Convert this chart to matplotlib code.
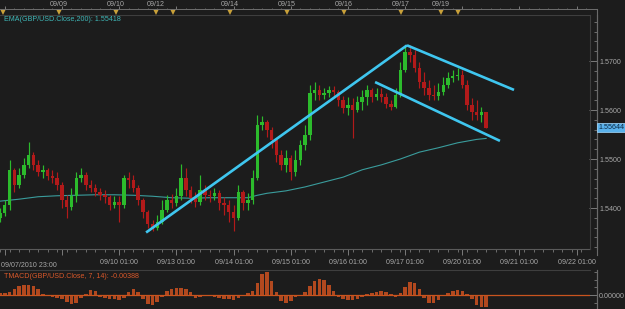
import matplotlib
matplotlib.use("Agg")
import matplotlib.pyplot as plt
import numpy as np
from matplotlib.lines import Line2D
from matplotlib.transforms import blended_transform_factory
from matplotlib.ticker import MultipleLocator, FixedLocator

plt.rcParams['font.family'] = ['Liberation Sans', 'DejaVu Sans']

# ---------------- data (2-hour candles, x = trading hours since 09/07/2010 23:00) -------------
first_open = 1.5380
closes = [1.5390, 1.5406, 1.5478, 1.5447, 1.5467, 1.5488, 1.5508, 1.5488, 1.5474, 1.5478,
          1.5465, 1.5461, 1.5447, 1.5416, 1.5402, 1.5425, 1.5461, 1.5467, 1.5447, 1.5441,
          1.5433, 1.5427, 1.5423, 1.5406, 1.5412, 1.5406, 1.5461, 1.5457, 1.5441, 1.5416,
          1.5392, 1.5367, 1.5359, 1.5371, 1.5396, 1.5416, 1.5410, 1.5425, 1.5461, 1.5437,
          1.5420, 1.5412, 1.5437, 1.5427, 1.5425, 1.5431, 1.5410, 1.5406, 1.5392, 1.5380,
          1.5433, 1.5410, 1.5416, 1.5461, 1.5569, 1.5576, 1.5559, 1.5539, 1.5508, 1.5488,
          1.5502, 1.5474, 1.5498, 1.5529, 1.5549, 1.5635, 1.5641, 1.5631, 1.5635, 1.5641,
          1.5637, 1.5620, 1.5604, 1.5610, 1.5600, 1.5616, 1.5627, 1.5641, 1.5627, 1.5633,
          1.5627, 1.5612, 1.5606, 1.5631, 1.5682, 1.5718, 1.5712, 1.5686, 1.5657, 1.5645,
          1.5631, 1.5629, 1.5637, 1.5651, 1.5665, 1.5669, 1.5671, 1.5651, 1.5610, 1.5596,
          1.5590, 1.5596, 1.5564]
highs = [1.5400, 1.5416, 1.5498, 1.5482, 1.5482, 1.5502, 1.5535, 1.5514, 1.5498, 1.5488,
         1.5482, 1.5478, 1.5474, 1.5453, 1.5427, 1.5441, 1.5474, 1.5482, 1.5474, 1.5457,
         1.5449, 1.5441, 1.5437, 1.5427, 1.5425, 1.5425, 1.5467, 1.5474, 1.5467, 1.5447,
         1.5420, 1.5396, 1.5376, 1.5386, 1.5416, 1.5427, 1.5429, 1.5441, 1.5490, 1.5482,
         1.5445, 1.5433, 1.5467, 1.5447, 1.5437, 1.5441, 1.5437, 1.5423, 1.5416, 1.5406,
         1.5447, 1.5437, 1.5431, 1.5478, 1.5590, 1.5588, 1.5580, 1.5565, 1.5543, 1.5518,
         1.5518, 1.5508, 1.5518, 1.5539, 1.5569, 1.5651, 1.5657, 1.5651, 1.5645, 1.5649,
         1.5649, 1.5641, 1.5629, 1.5627, 1.5624, 1.5629, 1.5641, 1.5651, 1.5645, 1.5645,
         1.5645, 1.5635, 1.5620, 1.5645, 1.5698, 1.5731, 1.5733, 1.5722, 1.5698, 1.5678,
         1.5661, 1.5651, 1.5655, 1.5667, 1.5678, 1.5682, 1.5686, 1.5682, 1.5661, 1.5624,
         1.5620, 1.5606, 1.5590]
lows = [1.5371, 1.5384, 1.5396, 1.5433, 1.5441, 1.5461, 1.5482, 1.5478, 1.5465, 1.5461,
        1.5457, 1.5451, 1.5437, 1.5400, 1.5380, 1.5396, 1.5412, 1.5453, 1.5437, 1.5433,
        1.5425, 1.5416, 1.5410, 1.5396, 1.5400, 1.5371, 1.5400, 1.5441, 1.5433, 1.5406,
        1.5380, 1.5359, 1.5353, 1.5355, 1.5367, 1.5392, 1.5400, 1.5404, 1.5416, 1.5425,
        1.5410, 1.5402, 1.5406, 1.5416, 1.5412, 1.5416, 1.5396, 1.5386, 1.5371, 1.5353,
        1.5376, 1.5396, 1.5396, 1.5408, 1.5457, 1.5559, 1.5545, 1.5522, 1.5494, 1.5478,
        1.5474, 1.5457, 1.5465, 1.5488, 1.5518, 1.5539, 1.5620, 1.5620, 1.5622, 1.5627,
        1.5629, 1.5608, 1.5594, 1.5590, 1.5543, 1.5596, 1.5600, 1.5610, 1.5616, 1.5620,
        1.5616, 1.5604, 1.5600, 1.5604, 1.5627, 1.5678, 1.5698, 1.5678, 1.5645, 1.5631,
        1.5620, 1.5620, 1.5620, 1.5631, 1.5645, 1.5657, 1.5661, 1.5645, 1.5600, 1.5580,
        1.5580, 1.5576, 1.5563]
candle_step_hours = 2

ema_hours = [0, 8, 16, 24, 32, 40, 48, 56, 64, 72, 80, 88, 96, 104, 108, 112, 120, 128,
             136, 144, 152, 160, 168, 176, 184, 192, 200, 204]
ema_values = [1.5414, 1.5418, 1.5423, 1.5425, 1.5426, 1.5427, 1.5427, 1.5426, 1.5424, 1.5421,
              1.5420, 1.5421, 1.5421, 1.5421, 1.5426, 1.5430, 1.5435, 1.5443, 1.5453, 1.5463,
              1.5478, 1.5488, 1.5500, 1.5514, 1.5523, 1.5533, 1.5540, 1.5542]

tmacd = [0.00065, 0.00065, 0.00097, 0.00194, 0.00291, 0.00323, 0.00323, 0.00291, 0.00194, 0.00032,
         -0.00032, -0.00065, -0.00097, -0.00129, -0.00226, -0.00291, -0.00258, -0.00097, 0.00032, 0.00162,
         0.00129, -0.00065, -0.00097, -0.00129, -0.00129, -0.00162, -0.00097, 0.00097, 0.00194, 0.00097,
         -0.00129, -0.00291, -0.00323, -0.00226, -0.00065, 0.00129, 0.00194, 0.00226, 0.00226, 0.00194,
         0.00097, -0.00097, -0.00065, -0.00032, -0.00032, -0.00065, -0.00097, -0.00129, -0.00129, -0.00162,
         -0.00097, -0.00032, 0.00065, 0.00129, 0.00388, 0.00678, 0.00743, 0.00452, 0.00097, -0.00194,
         -0.00258, -0.00194, -0.00065, -0.00032, 0.00097, 0.00291, 0.00452, 0.00517, 0.00485, 0.00323,
         0.00129, -0.00065, -0.00129, -0.00162, -0.00162, -0.00129, -0.00065, 0.00032, 0.00065, 0.00097,
         0.00129, 0.00097, 0.00032, -0.00065, 0.00065, 0.00258, 0.00420, 0.00388, 0.00194, -0.00097,
         -0.00258, -0.00258, -0.00162, -0.00032, 0.00065, 0.00129, 0.00162, 0.00129, 0.00032, -0.00129,
         -0.00323, -0.00388, -0.00388]

trend_up_hours = [61.3, 170.8]
trend_up_prices = [1.5350, 1.5732]
trend_top_hours = [170.8, 215.7]
trend_top_prices = [1.5732, 1.5641]
trend_low_hours = [157.4, 209.8]
trend_low_prices = [1.5657, 1.5537]

tick_hours = [2, 26, 50, 74, 98, 122, 146, 170, 194, 218, 242]
tick_labels = ['', '', '09/10 01:00', '09/13 01:00', '09/14 01:00', '09/15 01:00',
               '09/16 01:00', '09/17 01:00', '09/20 01:00', '09/21 01:00', '09/22 01:00']
first_label = '09/07/2010 23:00'

marker_hours = [1.3, 24.8, 48.7, 65.5, 72.6, 96.5, 120.4, 144.4, 168.3, 185.0, 192.2]
marker_labels = ['', '09/09', '09/10', '09/12', '', '09/14', '09/15', '09/16', '09/17', '09/19', '']

last_price = 1.55644
ema_label = 'EMA(GBP/USD.Close,200): 1.55418'
tmacd_label = 'TMACD(GBP/USD.Close, 7, 14): -0.00388'

# ---------------- styling ----------------
W, H = 625, 309
BG = '#1c1c1c'
FRAME = '#3e3e3e'
TXT = '#a8a8a8'
GREEN = '#2cbb2c'
RED = '#b21a1a'
FS = 5.1

fig = plt.figure(figsize=(W / 100, H / 100), dpi=100, facecolor=BG)

def fx(px):
    return px / W

def fy(py):
    return 1 - py / H

right_px = 590
main_top, main_bot = 15, 249
ax = fig.add_axes([0, fy(main_bot), fx(right_px), (main_bot - main_top) / H])
axb = fig.add_axes([0, 0, fx(right_px), (H - 270) / H], sharex=ax)
axt = fig.add_axes([0, fy(main_top), fx(right_px), main_top / H], sharex=ax)
for a in (ax, axb, axt):
    a.set_facecolor(BG)

hours = np.arange(len(closes)) * candle_step_hours
closes_a = np.array(closes)
opens_a = np.array([first_open] + closes[:-1])
highs_a = np.maximum(np.array(highs), np.maximum(opens_a, closes_a))
lows_a = np.minimum(np.array(lows), np.minimum(opens_a, closes_a))
cols = [GREEN if c >= o else RED for o, c in zip(opens_a, closes_a)]

ax.vlines(hours, lows_a, highs_a, colors=cols, lw=0.85, zorder=3)
body_bottom = np.minimum(opens_a, closes_a)
body_h = np.maximum(np.abs(closes_a - opens_a), 0.00012)
ax.bar(hours, body_h, bottom=body_bottom, width=1.45, color=cols, linewidth=0, zorder=4)

ax.plot(ema_hours, ema_values, color='#3a9c9c', lw=0.8, zorder=2)

tl_col = '#3fc6ef'
for hx, py in ((trend_up_hours, trend_up_prices), (trend_top_hours, trend_top_prices),
               (trend_low_hours, trend_low_prices)):
    ax.plot(hx, py, color=tl_col, lw=1.9, solid_capstyle='butt', zorder=6)

xmax = right_px / 2.383
ax.set_xlim(0, xmax)
ax.set_ylim(1.58245 - main_bot * 0.00020408, 1.58245 - main_top * 0.00020408)

ax.spines['left'].set_visible(False)
ax.spines['top'].set_color(FRAME)
ax.spines['bottom'].set_color('#5a5a5a')
ax.spines['right'].set_color('#6a6a6a')
ax.spines['right'].set_position(('outward', 5.0))
for s in ax.spines.values():
    s.set_linewidth(0.8)
ax.yaxis.tick_right()
ax.yaxis.set_major_locator(FixedLocator([1.54, 1.55, 1.56, 1.57]))
ax.yaxis.set_minor_locator(MultipleLocator(0.002))
ax.set_yticklabels(['1.5400', '1.5500', '1.5600', '1.5700'])
ax.tick_params(axis='y', which='major', direction='in', length=5.5, width=0.7, color='#7a7a7a',
               labelsize=FS, labelcolor=TXT, pad=1.5)
ax.tick_params(axis='y', which='minor', direction='in', length=2.5, width=0.6, color='#7a7a7a')
ax.xaxis.set_major_locator(FixedLocator(tick_hours))
ax.set_xticklabels(tick_labels)
ax.xaxis.set_minor_locator(MultipleLocator(4))
ax.tick_params(axis='x', which='major', direction='out', length=4, width=0.7, color='#7a7a7a',
               labelsize=FS, labelcolor=TXT, pad=3.2)
ax.tick_params(axis='x', which='minor', direction='out', length=2, width=0.6, color='#7a7a7a')
ax.text(0.6, -0.056, first_label, transform=blended_transform_factory(ax.transData, ax.transAxes),
        ha='left', va='top', fontsize=FS, color=TXT)

fig.add_artist(Line2D([fx(right_px), fx(right_px)], [fy(main_bot), fy(main_top)],
                      color=FRAME, lw=0.8))
fig.add_artist(Line2D([fx(597), fx(597)], [fy(255), fy(9)], color='#6a6a6a', lw=0.8))
fig.add_artist(Line2D([fx(597), fx(597)], [0, fy(270)], color='#6a6a6a', lw=0.8))

ax.text(4 / right_px, 1 - 4.5 / (main_bot - main_top), ema_label, transform=ax.transAxes,
        ha='left', va='center', fontsize=FS, color='#3fb8b8')

bt = blended_transform_factory(fig.transFigure, ax.transData)
fig.text(fx(598.5), last_price, '1.55644', transform=bt, ha='left', va='center', fontsize=FS,
         color='#0b2740', bbox=dict(boxstyle='square,pad=0.15', fc='#5ab2ec', ec='#a8dcff', lw=0.5),
         zorder=10)

# ---------------- bottom TMACD panel ----------------
axb.bar(hours, tmacd, width=1.5, color='#b2491f', linewidth=0, zorder=3)
axb.axhline(0, color='#c9541f', lw=0.9, zorder=4)
axb.set_ylim(-0.00452, 0.00808)
axb.spines['left'].set_visible(False)
axb.spines['bottom'].set_visible(False)
axb.spines['top'].set_color(FRAME)
axb.spines['right'].set_color('#6a6a6a')
axb.spines['right'].set_position(('outward', 5.0))
for s in axb.spines.values():
    s.set_linewidth(0.8)
axb.yaxis.tick_right()
axb.yaxis.set_major_locator(FixedLocator([0.0]))
axb.set_yticklabels(['0.00000'])
axb.yaxis.set_minor_locator(MultipleLocator(0.0025))
axb.tick_params(axis='y', which='major', direction='in', length=5.5, width=0.7, color='#7a7a7a',
                labelsize=FS, labelcolor=TXT, pad=1.5)
axb.tick_params(axis='y', which='minor', direction='in', length=2.5, width=0.6, color='#7a7a7a')
axb.tick_params(axis='x', which='both', bottom=False, labelbottom=False)
axb.text(4 / right_px, 1 - 7 / 39, tmacd_label, transform=axb.transAxes, ha='left', va='center',
         fontsize=FS, color='#d9582a')

# ---------------- top timeline ----------------
axt.set_ylim(15, 0)
for s in axt.spines.values():
    s.set_visible(False)
axt.tick_params(which='both', bottom=False, labelbottom=False, left=False, labelleft=False)
fig.add_artist(Line2D([0, fx(597)], [fy(9), fy(9)], color='#6e6e6e', lw=0.7))
small_ticks = np.arange(2, xmax + 1, 4)
axt.vlines(small_ticks, 7.5, 9, colors='#6e6e6e', lw=0.6)
axt.vlines(tick_hours, 6, 9, colors='#7a7a7a', lw=0.7)
axt.plot(marker_hours, [11.8] * len(marker_hours), linestyle='none', marker='v', markersize=4.2,
         color='#c9a13a', markeredgewidth=0, zorder=5, clip_on=False)
for hx, lab in zip(marker_hours, marker_labels):
    if lab:
        axt.text(hx, 4.4, lab, ha='center', va='center', fontsize=FS, color=TXT)

fig.savefig('out.png', dpi=100, facecolor=BG)
